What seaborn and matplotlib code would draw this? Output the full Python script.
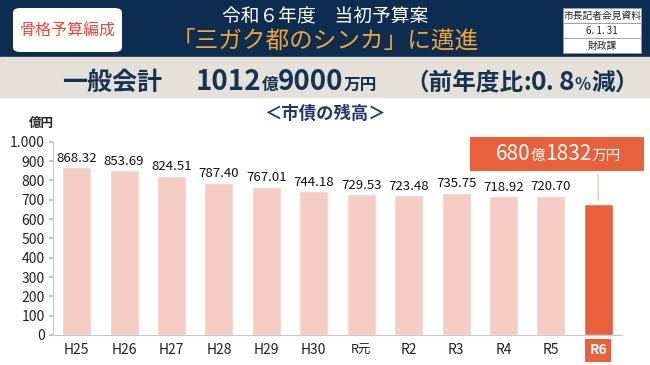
import numpy as np
import pandas as pd
import seaborn as sns
import matplotlib.pyplot as plt
from matplotlib.patches import Rectangle, FancyBboxPatch

# data
years = ['H25', 'H26', 'H27', 'H28', 'H29', 'H30', 'R元', 'R2', 'R3', 'R4', 'R5', 'R6']
balance = [868.32, 853.69, 824.51, 787.40, 767.01, 744.18, 729.53, 723.48, 735.75, 718.92, 720.70, 680.18]
value_labels = ['868.32', '853.69', '824.51', '787.40', '767.01', '744.18', '729.53',
                '723.48', '735.75', '718.92', '720.70', '']
ytick_vals = [0, 100, 200, 300, 400, 500, 600, 700, 800, 900, 1000]
ytick_labels = ['0', '100', '200', '300', '400', '500', '600', '700', '800', '900', '1.000']

NAVY = '#0c2d4f'
BEIGE = '#e5e1d8'
LIGHT = '#f6cdc5'
DARK = '#e9603d'
TEXT_NAVY = '#143456'

sns.set_theme(style='white')
plt.rcParams['font.family'] = ['Noto Sans CJK JP', 'DejaVu Sans']

W, H = 650, 365
fig = plt.figure(figsize=(6.5, 3.65), dpi=100)


def fx(px):
    return px / W


def fy(py):
    return 1 - py / H


# header bands
fig.add_artist(Rectangle((0, fy(57)), 1, 57 / H, transform=fig.transFigure, color=NAVY, zorder=0))
fig.add_artist(Rectangle((0, fy(97)), 1, 40 / H, transform=fig.transFigure, color=BEIGE, zorder=0))

# left badge
fig.add_artist(FancyBboxPatch((fx(13), fy(52)), fx(109), 44 / H, boxstyle='round,pad=0,rounding_size=0.012',
                              transform=fig.transFigure, facecolor='white', edgecolor='none'))
fig.text(fx(67.5), fy(31), '骨格予算編成', color='#e2483a', fontsize=11.5, ha='center', va='center')

# title lines
fig.text(fx(325), fy(17), '令和６年度　当初予算案', color='white', fontsize=13.5, ha='center', va='center')
fig.text(fx(325), fy(41), '「三ガク都のシンカ」に邁進', color='#f2a236', fontsize=17, ha='center', va='center')

# right info box
for i, s in enumerate(['市長記者会見資料', '6. 1. 31', '財政課']):
    top = 8 + i * 15
    fig.add_artist(Rectangle((fx(563), fy(top + 15)), fx(78), 15 / H, transform=fig.transFigure,
                             facecolor='white', edgecolor='#9a9a9a', linewidth=0.6))
    fig.text(fx(602), fy(top + 7.5), s, color='#222222', fontsize=7, ha='center', va='center')

renderer = fig.canvas.get_renderer()


def run_text(x, base, pieces, weight='bold'):
    for s, size in pieces:
        t = fig.text(fx(x), fy(base), s, fontsize=size, color=TEXT_NAVY, fontweight=weight, va='baseline')
        x += t.get_window_extent(renderer).width
    return x


run_text(62, 90, [('一般会計', 18)])
run_text(196, 90, [('1012', 20), ('億', 12), ('9000', 20), ('万円', 12)], weight='semibold')
run_text(405, 90, [('（前年度比', 17), (':', 17), ('0', 19), ('. ', 17), ('8', 19), ('%', 12), ('減', 17), ('）', 17)])

# chart
ax = fig.add_axes([fx(53), 30 / H, fx(569), 193.3 / H])
df = pd.DataFrame({'year': years, 'balance': balance})
colors = [LIGHT] * (len(years) - 1) + [DARK]
sns.barplot(data=df, x='year', y='balance', hue='year', palette=colors, legend=False,
            width=0.61, saturation=1, ax=ax)

ax.set_xlim(-0.5, len(years) - 0.5)
ax.set_ylim(0, 1000)
ax.set_yticks(ytick_vals)
ax.set_yticklabels(ytick_labels, fontsize=10, color='#222222')
ax.set_xlabel('')
ax.set_ylabel('')
ax.set_xticks(range(len(years)))
ax.set_xticklabels(years, fontsize=10, color='#222222')
ax.set_xticks(np.arange(-0.5, len(years), 1), minor=True)
ax.tick_params(axis='x', which='major', length=0, pad=6)
ax.tick_params(axis='x', which='minor', length=3, color='#bbbbbb', direction='out')
ax.tick_params(axis='y', length=3, color='#bbbbbb', direction='out', pad=3, left=True)
for side in ['top', 'right']:
    ax.spines[side].set_visible(False)
for side in ['left', 'bottom']:
    ax.spines[side].set_color('#c8c8c8')
    ax.spines[side].set_linewidth(0.8)

for i, (v, lab) in enumerate(zip(balance, value_labels)):
    if lab:
        ax.text(i, v + 12, lab, ha='center', va='bottom', fontsize=9.5, color='#111111')

# R6 tick label as white on orange
last = ax.get_xticklabels()[-1]
last.set_color('white')
last.set_fontweight('bold')
last.set_bbox(dict(facecolor=DARK, edgecolor='none', pad=3))
ax.get_xticklabels()[6].set_fontsize(9)

fig.text(fx(41), fy(123), '億円', fontsize=9, fontweight='bold', color='#222222', ha='center', va='center')
fig.text(fx(325), fy(114), '＜市債の残高＞', fontsize=12.5, fontweight='bold', color='#1d3a6a',
         ha='center', va='center')

# callout box for R6
fig.add_artist(Rectangle((fx(470), fy(171)), fx(174), 34 / H, transform=fig.transFigure,
                         facecolor=DARK, edgecolor='none'))
x = 496
for s, size in [('680', 15), ('億', 10.5), ('1832', 15), ('万円', 10.5)]:
    t = fig.text(fx(x), fy(160), s, fontsize=size, color='white', va='baseline')
    x += t.get_window_extent(renderer).width
ax.annotate('', xy=(len(years) - 1, balance[-1]), xytext=(fx(598), fy(171)), textcoords='figure fraction',
            arrowprops=dict(arrowstyle='-', color='#d8c393', lw=0.8))

fig.savefig('out.png', dpi=100)
